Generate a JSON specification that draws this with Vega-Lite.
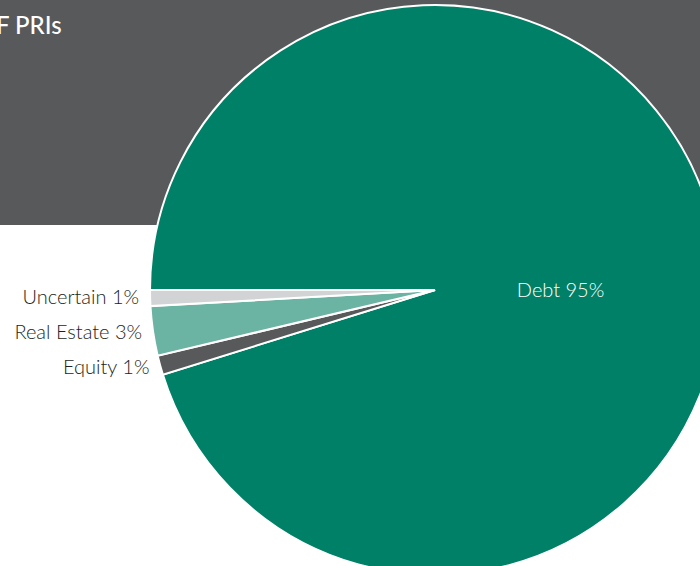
{
  "$schema": "https://vega.github.io/schema/vega-lite/v6.json",
  "width": 870,
  "height": 580,
  "autosize": {"type": "none"},
  "padding": 0,
  "background": "white",
  "view": {"stroke": null},
  "title": {
    "text": "F PRIs",
    "anchor": "start",
    "frame": "group",
    "orient": "top",
    "offset": -39,
    "dx": -4,
    "font": "Lato",
    "fontSize": 24,
    "fontWeight": 500,
    "color": "white"
  },
  "layer": [
    {
      "data": {"values": [{"panel": "header"}]},
      "mark": {"type": "rect", "color": "#58595b"},
      "encoding": {
        "x": {"value": 0},
        "x2": {"value": 870},
        "y": {"value": 0},
        "y2": {"value": 225}
      }
    },
    {
      "data": {"name": "pie"},
      "layer": [
        {
          "mark": {"type": "arc", "outerRadius": 285, "stroke": "white", "strokeWidth": 2},
          "encoding": {
            "theta": {"field": "share", "type": "quantitative", "stack": true, "scale": {"range": [4.71239, 10.99557]}},
            "order": {"field": "category", "sort": "ascending"},
            "color": {
              "field": "category",
              "type": "nominal",
              "legend": null,
              "scale": {
                "domain": ["Debt", "Equity", "Real Estate", "Uncertain"],
                "range": ["#008066", "#58595b", "#6bb3a3", "#d1d3d4"]
              }
            }
          }
        },
        {
          "mark": {"type": "text", "radius": 296, "align": "right", "baseline": "middle", "font": "Lato", "fontSize": 20, "fontWeight": 300, "color": "#231f20"},
          "encoding": {
            "theta": {"field": "share", "type": "quantitative", "stack": true, "scale": {"range": [4.71239, 10.99557]}},
            "order": {"field": "category", "sort": "ascending"},
            "text": {"condition": {"test": "datum.category === 'Debt'", "value": ""}, "field": "label", "type": "nominal"}
          }
        },
        {
          "mark": {"type": "text", "radius": 127, "dy": 20, "align": "center", "baseline": "middle", "font": "Lato", "fontSize": 20, "fontWeight": 300, "color": "white"},
          "encoding": {
            "theta": {"field": "share", "type": "quantitative", "stack": true, "scale": {"range": [4.71239, 10.99557]}},
            "order": {"field": "category", "sort": "ascending"},
            "text": {"condition": {"test": "datum.category !== 'Debt'", "value": ""}, "field": "label", "type": "nominal"}
          }
        }
      ]
    }
  ],
  "datasets": {
    "pie": [
      {"category": "Debt", "share": 95.2, "label": "Debt 95%"},
      {"category": "Equity", "share": 1.1, "label": "Equity 1%"},
      {"category": "Real Estate", "share": 2.8, "label": "Real Estate 3%"},
      {"category": "Uncertain", "share": 0.9, "label": "Uncertain 1%"}
    ]
  }
}
